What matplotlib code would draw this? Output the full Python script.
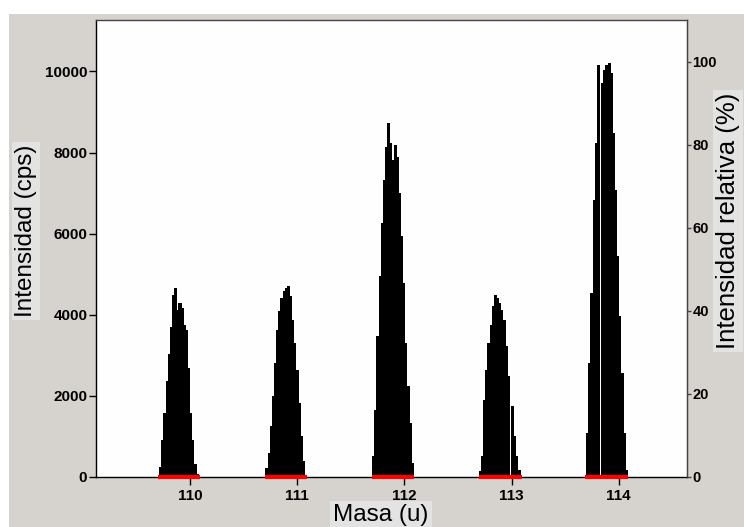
import numpy as np
import matplotlib
matplotlib.use("Agg")
import matplotlib.pyplot as plt
from matplotlib.patches import Rectangle

plt.rcParams['font.family'] = ['Liberation Sans', 'DejaVu Sans']

# ---------------- data ----------------
masses = [110, 111, 112, 113, 114]
bin_width = 0.02
peak_start = [109.717, 110.709, 111.704, 112.699, 113.700]

peak_110 = [230, 903, 1568, 2356, 3021, 3694, 4483, 4647, 4113, 4277, 4154,
            3744, 3620, 2676, 1568, 911, 296, 50]
peak_111 = [213, 583, 1240, 1979, 2800, 3621, 4072, 4401, 4565, 4647, 4688,
            4442, 3867, 3292, 2635, 1814, 993, 378, 49]
peak_112 = [501, 1650, 3456, 4934, 6248, 7315, 8136, 8711, 8218, 7808, 8177,
            7890, 6987, 5920, 4770, 3292, 2225, 1322, 337]
peak_113 = [131, 501, 1896, 2635, 3292, 3744, 4195, 4483, 4401, 4277, 4113,
            3867, 3210, 2471, 0, 1732, 993, 501, 172]
peak_114 = [1076, 2800, 4524, 6822, 8218, 10148, 0, 9696, 10024, 10148, 10189,
            9942, 8465, 7069, 5427, 3949, 2553, 1076, 172]
peaks = [peak_110, peak_111, peak_112, peak_113, peak_114]

window_lo = [109.70, 110.70, 111.70, 112.70, 113.69]
window_hi = [110.09, 111.09, 112.09, 113.10, 114.09]

y_ticks = [0, 2000, 4000, 6000, 8000, 10000]
rel_ticks = [0, 20, 40, 60, 80, 100]

# ---------------- figure ----------------
W, H = 744, 527
fig = plt.figure(figsize=(W / 100, H / 100), dpi=100)
fig.patch.set_facecolor('white')
fig.add_artist(Rectangle((9 / W, 0), 1, 1 - 14 / H, transform=fig.transFigure,
                         facecolor='#d6d3ce', edgecolor='none', zorder=-10))

L, R, T, B = 96, 687, 20, 477
ax = fig.add_axes([L / W, 1 - B / H, (R - L) / W, (B - T) / H])
ax.set_facecolor('#fefefe')

for start, vals in zip(peak_start, peaks):
    edges = start + bin_width * np.arange(len(vals) + 1)
    xs = np.repeat(edges, 2)
    ys = np.concatenate([[0], np.repeat(vals, 2), [0]])
    ax.fill(xs, ys, facecolor='black', edgecolor='none', antialiased=False,
            snap=False)

for lo, hi in zip(window_lo, window_hi):
    ax.plot([lo, hi], [0, 0], color='#ff0000', linewidth=3.0,
            solid_capstyle='butt', clip_on=False, zorder=5)

ax.set_xlim(109.123, 114.637)
ax.set_ylim(0, 11270)
ax.set_xticks(masses)
ax.set_yticks(y_ticks)
ax.set_xticklabels([str(m) for m in masses], fontweight='bold', fontsize=11)
ax.set_yticklabels([str(v) for v in y_ticks], fontweight='bold', fontsize=11)
ax.tick_params(axis='x', direction='out', length=5.8, width=1, pad=3)
ax.tick_params(axis='y', direction='out', length=4.8, width=1, pad=1.5)

for s in ['left', 'bottom']:
    ax.spines[s].set_color('black')
    ax.spines[s].set_linewidth(1.0)
for s in ['top', 'right']:
    ax.spines[s].set_color('#444444')
    ax.spines[s].set_linewidth(1.0)

ax2 = ax.twinx()
ax2.set_ylim(0, 110.1)
ax2.set_yticks(rel_ticks)
ax2.set_yticklabels([str(v) for v in rel_ticks], fontweight='bold', fontsize=10.5)
ax2.tick_params(axis='y', direction='out', length=3, width=1, pad=0.8,
                color='#444444')
for s in ['left', 'bottom', 'top']:
    ax2.spines[s].set_visible(False)
ax2.spines['right'].set_color('#444444')

box = dict(boxstyle='square,pad=0.12', facecolor='#e3e3e3', edgecolor='none')
fig.text(26 / W, 1 - 231 / H, 'Intensidad (cps)', rotation=90, ha='center',
         va='center', fontsize=17.5, bbox=box)
fig.text(728 / W, 1 - 221 / H, 'Intensidad relativa (%)', rotation=90,
         ha='center', va='center', fontsize=18.5, bbox=box)
fig.text(381 / W, 1 - 504 / H, 'Masa (u)', ha='center', va='top',
         fontsize=17.5, bbox=box)

fig.savefig('out.png', dpi=100, facecolor=fig.get_facecolor())
